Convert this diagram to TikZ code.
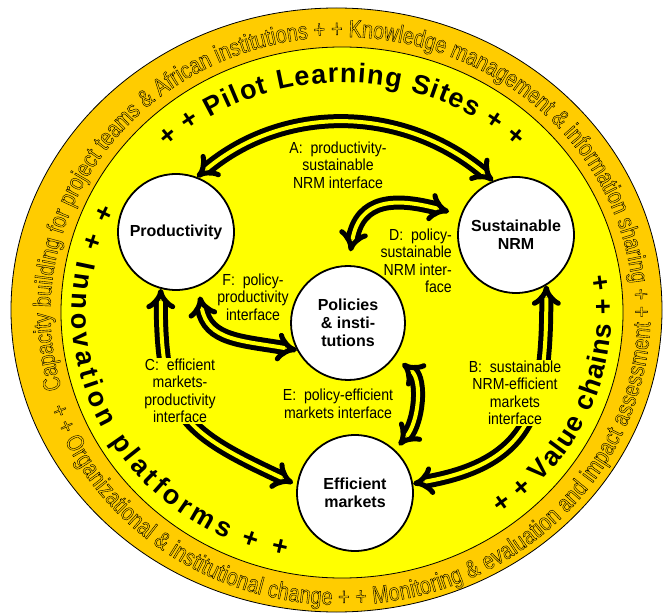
\documentclass[tikz,border=0pt]{standalone}
\usepackage{fontspec}
\setmainfont{Liberation Sans}
\setsansfont{Liberation Sans}
\newfontfamily\narrowfont[FakeStretch=0.88]{Liberation Sans}
\newfontfamily\outerfam[FakeStretch=0.8]{Liberation Sans}
\usetikzlibrary{arrows.meta,decorations.text}
\definecolor{bandorange}{RGB}{255,204,0}
\definecolor{ringyellow}{RGB}{255,255,0}
\newcommand\outerfont{\outerfam\fontsize{24.5}{24.5}\selectfont\special{pdf:literal direct 1 Tr}}
\newcommand\innerfont{\bfseries\fontsize{27}{27}\selectfont}
\tikzset{
  sector/.style={circle, draw, line width=1.8pt, fill=white, minimum size=116pt, inner sep=0pt,
    align=center, font=\bfseries\fontsize{16}{18}\selectfont},
  link/.style={line width=5pt, double=ringyellow, double distance=4pt, {Implies[scale=2.2]}-{Implies[scale=2.2]}},
  linklabel/.style={align=center, inner sep=1pt, font=\narrowfont\fontsize{16}{17.5}\selectfont},
  ringtext/.style={decorate, decoration={text along path, text align=fit to path, raise=#1}},
}

\begin{document}
\begin{tikzpicture}[x=1pt,y=1pt]
\useasboundingbox (0,0) rectangle (664,614);
\draw[line width=0.8pt, fill=bandorange] (336.5,304) ellipse[x radius=325.5pt, y radius=302pt];
\draw[line width=0.8pt, fill=ringyellow] (342,301.5) ellipse[x radius=281pt, y radius=265.5pt];

\path[ringtext=-8.5pt, decoration={text={|\outerfont|Capacity building for project teams {\&} African institutions + + Knowledge management {\&} information sharing + +}}]
  ([shift={(342,301.5)}]196:300pt and 284pt) arc[start angle=196, end angle=-1, x radius=300pt, y radius=284pt];
\path[ringtext=-8.5pt, decoration={text={|\outerfont|+ + Organizational {\&} institutional change +  + Monitoring {\&} evaluation and impact assessment}}]
  ([shift={(342,301.5)}]199:300pt and 284pt) arc[start angle=199, end angle=358, x radius=300pt, y radius=284pt];

\path[ringtext=-10pt, decoration={text={|\innerfont|+ + Pilot Learning Sites + +}}]
  ([shift={(342,301.5)}]134:260pt and 240pt) arc[start angle=134, end angle=46, x radius=260pt, y radius=240pt];
\path[ringtext=-10pt, decoration={text={|\innerfont|+ + Innovation platforms + +}}]
  ([shift={(342,301.5)}]154:260pt and 240pt) arc[start angle=154, end angle=258, x radius=260pt, y radius=240pt];
\path[ringtext=-10pt, decoration={text={|\innerfont|+ + Value chains + +}}]
  ([shift={(342,301.5)}]306:260pt and 240pt) arc[start angle=306, end angle=369, x radius=260pt, y radius=240pt];

\node[sector] (prod) at (176,382) {Productivity};
\node[sector] (snrm) at (516,379) {Sustainable\\NRM};
\node[sector, minimum size=114pt] (pol) at (348,291) {Policies\\\& insti-\\tutions};
\node[sector] (mkt) at (355,121) {Efficient\\markets};

\draw[link] (prod.69) to[out=40,in=140] (snrm.113);
\draw[link, shorten <=14pt, shorten >=12pt] (pol.90) to[out=80,in=165,looseness=1.4] (snrm.160);
\draw[link] (snrm.-59) to[out=-90,in=10,looseness=1.3] (mkt.9);
\draw[link, shorten >=4pt] (prod.255) to[out=-90,in=155,looseness=1.35] (mkt.172);
\draw[link, shorten <=10pt] (prod.-68) to[out=-80,in=170,looseness=1.2] (pol.208);
\draw[link, shorten <=10pt, shorten >=6pt] (pol.-36) to[out=-40,in=50] (mkt.47);

\node[linklabel] (labA) at (338,449) {A:\ \ productivity-\\sustainable\\NRM interface};
\node[linklabel, align=right, anchor=east] (labD) at (453,353) {D:\ \ policy-\\sustainable\\NRM inter-\\face};
\node[linklabel] (labF) at (253,317) {F:\ \ policy-\\productivity\\interface};
\node[linklabel, fill=ringyellow] (labC) at (180,223) {C:\ \ efficient\\markets-\\productivity\\interface};
\node[linklabel] (labE) at (338,210) {E:\ \ policy-efficient\\markets interface};
\node[linklabel, fill=ringyellow] (labB) at (515,221) {B:\ \ sustainable\\NRM-efficient\\markets\\interface};
\end{tikzpicture}
\end{document}
